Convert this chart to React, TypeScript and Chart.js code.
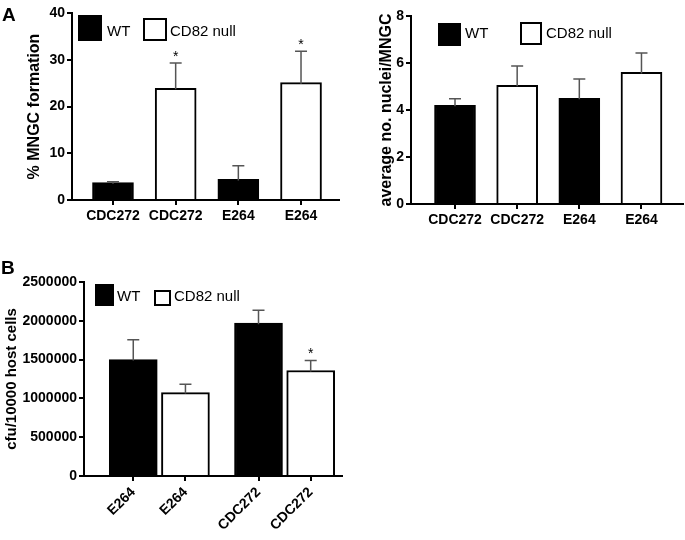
import React, { useEffect, useRef } from "react";
import { Chart, registerables } from "chart.js";

Chart.register(...registerables);

const FONT = '"Liberation Sans", Arial, Helvetica, sans-serif';

// ---- Panel A (left): % MNGC formation ----
const mngcLabels = ["CDC272", "CDC272", "E264", "E264"];
const mngcWT = [3.7, 4.4];
const mngcWTErr = [0.2, 2.9];
const mngcNull = [23.9, 25.1];
const mngcNullErr = [5.4, 6.7];
const mngcNullSig = ["*", "*"];

// ---- Panel A (right): average no. nuclei/MNGC ----
const nucleiLabels = ["CDC272", "CDC272", "E264", "E264"];
const nucleiWT = [4.2, 4.5];
const nucleiWTErr = [0.28, 0.82];
const nucleiNull = [5.05, 5.6];
const nucleiNullErr = [0.82, 0.83];
const nucleiNullSig = ["", ""];

// ---- Panel B: cfu/10000 host cells ----
const cfuLabels = ["E264", "E264", "CDC272", "CDC272"];
const cfuWT = [1500000, 1970000];
const cfuWTErr = [255000, 165000];
const cfuNull = [1075000, 1360000];
const cfuNullErr = [108000, 130000];
const cfuNullSig = ["", "*"];

const seriesNames = ["WT", "CD82 null"];

const errorBarPlugin = {
  id: "errorBars",
  afterDatasetsDraw(chart: any, _args: any, opts: any) {
    const { ctx } = chart;
    const yScale = chart.scales.y;
    chart.data.datasets.forEach((ds: any, di: number) => {
      const meta = chart.getDatasetMeta(di);
      const errs = opts.errs[di];
      const sig = opts.sig[di] || [];
      meta.data.forEach((bar: any, i: number) => {
        const v = ds.data[i].y;
        const top = yScale.getPixelForValue(v + errs[i]);
        ctx.save();
        ctx.strokeStyle = opts.color;
        ctx.lineWidth = opts.width;
        ctx.beginPath();
        ctx.moveTo(bar.x, bar.y + 1);
        ctx.lineTo(bar.x, top);
        ctx.moveTo(bar.x - opts.cap / 2, top);
        ctx.lineTo(bar.x + opts.cap / 2, top);
        ctx.stroke();
        if (sig[i]) {
          ctx.fillStyle = "#000";
          ctx.font = `14px ${FONT}`;
          ctx.textAlign = "center";
          ctx.textBaseline = "alphabetic";
          ctx.fillText(sig[i], bar.x, top - 2);
        }
        ctx.restore();
      });
    });
  },
};

const decorPlugin = {
  id: "decor",
  afterDraw(chart: any, _args: any, opts: any) {
    const { ctx } = chart;
    ctx.save();
    (opts.items || []).forEach((it: any) => {
      ctx.fillStyle = it.fill;
      ctx.fillRect(it.x, it.y, it.w, it.h);
      ctx.strokeStyle = "#000";
      ctx.lineWidth = 2;
      ctx.strokeRect(it.x + 1, it.y + 1, it.w - 2, it.h - 2);
      ctx.fillStyle = "#000";
      ctx.font = `15px ${FONT}`;
      ctx.textAlign = "left";
      ctx.textBaseline = "middle";
      ctx.fillText(it.text, it.tx, it.ty);
    });
    if (opts.letter) {
      ctx.fillStyle = "#000";
      ctx.font = `bold 19px ${FONT}`;
      ctx.textAlign = "left";
      ctx.textBaseline = "alphabetic";
      ctx.fillText(opts.letter.text, opts.letter.x, opts.letter.y);
    }
    ctx.restore();
  },
};

type PanelSpec = {
  labels: string[];
  wt: number[];
  wtErr: number[];
  nul: number[];
  nulErr: number[];
  nulSig: string[];
  groupStep: number;
  xMin: number;
  xMax: number;
  yMax: number;
  yStep: number;
  yTitle: string;
  yTitleSize: number;
  yTitlePad: number;
  yWidth: number;
  xHeight: number;
  padTop: number;
  padRight: number;
  barThickness: number;
  rotate: number;
  legend: any[];
  letter?: any;
};

function buildConfig(p: PanelSpec): any {
  const pos = (g: number, m: number) => g * p.groupStep + m;
  const wtData = p.wt.map((v, g) => ({ x: pos(g, 0), y: v }));
  const nulData = p.nul.map((v, g) => ({ x: pos(g, 1), y: v }));
  const tickValues = p.labels.map((_, i) => pos(Math.floor(i / 2), i % 2));
  const tickFont = { family: FONT, size: 14, weight: "bold" as const };
  return {
    type: "bar",
    data: {
      datasets: [
        {
          label: seriesNames[0],
          data: wtData,
          backgroundColor: "#000",
          borderColor: "#000",
          borderWidth: 2,
          barThickness: p.barThickness,
          grouped: false,
        },
        {
          label: seriesNames[1],
          data: nulData,
          backgroundColor: "#fff",
          borderColor: "#000",
          borderWidth: 2,
          barThickness: p.barThickness,
          grouped: false,
        },
      ],
    },
    options: {
      animation: false,
      responsive: false,
      maintainAspectRatio: false,
      layout: { padding: { top: p.padTop, right: p.padRight, left: 0, bottom: 0 } },
      plugins: {
        legend: { display: false },
        tooltip: { enabled: false },
        errorBars: {
          errs: [p.wtErr, p.nulErr],
          sig: [[], p.nulSig],
          color: "#555",
          width: 1.5,
          cap: 12,
        },
        decor: { items: p.legend, letter: p.letter },
      },
      scales: {
        x: {
          type: "linear",
          min: p.xMin,
          max: p.xMax,
          offset: false,
          afterBuildTicks: (scale: any) => {
            scale.ticks = tickValues.map((v) => ({ value: v }));
          },
          afterFit: (scale: any) => {
            scale.height = p.xHeight;
          },
          ticks: {
            callback: (_v: any, i: number) => p.labels[i],
            color: "#000",
            font: tickFont,
            padding: 3,
            minRotation: p.rotate,
            maxRotation: p.rotate,
            autoSkip: false,
          },
          grid: {
            display: true,
            drawOnChartArea: false,
            drawTicks: true,
            tickLength: 5,
            offset: false,
            color: "#000",
            lineWidth: 2,
          },
          border: { display: true, color: "#000", width: 2 },
        },
        y: {
          type: "linear",
          min: 0,
          max: p.yMax,
          afterFit: (scale: any) => {
            scale.width = p.yWidth;
          },
          ticks: {
            stepSize: p.yStep,
            color: "#000",
            font: tickFont,
            padding: 2,
            callback: (v: any) => String(v),
          },
          grid: {
            display: true,
            drawOnChartArea: false,
            drawTicks: true,
            tickLength: 5,
            color: "#000",
            lineWidth: 2,
          },
          border: { display: true, color: "#000", width: 2 },
          title: {
            display: true,
            text: p.yTitle,
            color: "#000",
            font: { family: FONT, size: p.yTitleSize, weight: "bold", lineHeight: 1.2 },
            padding: { top: p.yTitlePad, bottom: 0 },
          },
        },
      },
    },
    plugins: [errorBarPlugin, decorPlugin],
  };
}

const panelA1: PanelSpec = {
  labels: mngcLabels,
  wt: mngcWT,
  wtErr: mngcWTErr,
  nul: mngcNull,
  nulErr: mngcNullErr,
  nulSig: mngcNullSig,
  groupStep: 2,
  xMin: -0.654,
  xMax: 3.606,
  yMax: 40,
  yStep: 10,
  yTitle: "% MNGC formation",
  yTitleSize: 16,
  yTitlePad: 25,
  yWidth: 72,
  xHeight: 35,
  padTop: 13,
  padRight: 3,
  barThickness: 41,
  rotate: 0,
  legend: [
    { x: 78, y: 15, w: 24, h: 26, fill: "#000", text: seriesNames[0], tx: 107, ty: 32 },
    { x: 143, y: 18, w: 24, h: 23, fill: "#fff", text: seriesNames[1], tx: 170, ty: 32 },
  ],
  letter: { text: "A", x: 2, y: 21 },
};

const panelA2: PanelSpec = {
  labels: nucleiLabels,
  wt: nucleiWT,
  wtErr: nucleiWTErr,
  nul: nucleiNull,
  nulErr: nucleiNullErr,
  nulSig: nucleiNullSig,
  groupStep: 2,
  xMin: -0.708,
  xMax: 3.668,
  yMax: 8,
  yStep: 2,
  yTitle: "average no. nuclei/MNGC",
  yTitleSize: 16,
  yTitlePad: 35,
  yWidth: 69,
  xHeight: 31,
  padTop: 16,
  padRight: 2,
  barThickness: 41,
  rotate: 0,
  legend: [
    { x: 96, y: 23, w: 23, h: 23, fill: "#000", text: seriesNames[0], tx: 123, ty: 34 },
    { x: 178, y: 22, w: 22, h: 23, fill: "#fff", text: seriesNames[1], tx: 204, ty: 34 },
  ],
};

const panelB: PanelSpec = {
  labels: cfuLabels,
  wt: cfuWT,
  wtErr: cfuWTErr,
  nul: cfuNull,
  nulErr: cfuNullErr,
  nulSig: cfuNullSig,
  groupStep: 2.4,
  xMin: -0.944,
  xMax: 4.0,
  yMax: 2500000,
  yStep: 500000,
  yTitle: "cfu/10000 host cells",
  yTitleSize: 15,
  yTitlePad: 3,
  yWidth: 84,
  xHeight: 64,
  padTop: 42,
  padRight: 3,
  barThickness: 48,
  rotate: 45,
  legend: [
    { x: 95, y: 44, w: 19, h: 22, fill: "#000", text: seriesNames[0], tx: 117, ty: 57 },
    { x: 154, y: 50, w: 17, h: 16, fill: "#fff", text: seriesNames[1], tx: 174, ty: 57 },
  ],
  letter: { text: "B", x: 1, y: 34 },
};

function Panel({ spec, left, top, width, height }: { spec: PanelSpec; left: number; top: number; width: number; height: number }) {
  const ref = useRef<HTMLCanvasElement | null>(null);
  useEffect(() => {
    if (!ref.current) return;
    const chart = new Chart(ref.current, buildConfig(spec));
    return () => chart.destroy();
  }, [spec]);
  return (
    <canvas
      ref={ref}
      width={width}
      height={height}
      style={{ position: "absolute", left, top, width, height }}
    />
  );
}

export default function App() {
  return (
    <div style={{ position: "absolute", left: 0, top: 0, width: 685, height: 540, background: "#fff", overflow: "hidden" }}>
      <Panel spec={panelA1} left={0} top={0} width={342} height={235} />
      <Panel spec={panelA2} left={342} top={0} width={343} height={235} />
      <Panel spec={panelB} left={0} top={240} width={345} height={300} />
    </div>
  );
}
